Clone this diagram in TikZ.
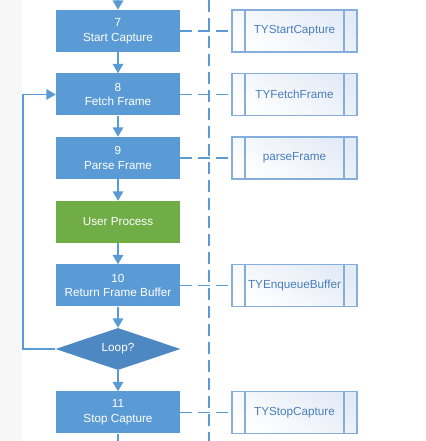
\documentclass[tikz,border=0pt]{standalone}
\usepackage{fontspec}
\setmainfont{Liberation Sans}
\usepackage{tikz}
\usetikzlibrary{arrows.meta,calc,positioning,shapes.geometric}
\definecolor{Sky}{HTML}{5B9BD5}
\definecolor{Steel}{HTML}{4E88C2}
\definecolor{Leaf}{HTML}{70AD47}
\definecolor{Frame}{HTML}{86AEDC}
\definecolor{Ink}{HTML}{4A7EBB}
\definecolor{Haze}{HTML}{E3EBF6}
\definecolor{Strip}{HTML}{F7F7F7}
\tikzset{
  flowbox/.style={rectangle,fill=Sky,text=white,minimum width=3.72cm,minimum height=1.26cm,
    align=center,font=\fontsize{10}{12.5}\selectfont,inner sep=0pt},
  userbox/.style={flowbox,fill=Leaf},
  loopbox/.style={diamond,fill=Steel,text=white,aspect=3,minimum width=3.75cm,minimum height=1.26cm,
    inner sep=0pt,font=\fontsize{10}{12.5}\selectfont},
  apibox/.style={rectangle,draw=Frame,line width=0.9pt,text=Ink,top color=Haze,bottom color=white,
    shading angle=-30,minimum width=3.75cm,minimum height=1.26cm,inner sep=0pt,
    font=\fontsize{10}{12}\selectfont,
    path picture={
      \draw[Frame,line width=0.9pt]
        ([xshift=0.39cm]path picture bounding box.north west) -- ([xshift=0.39cm]path picture bounding box.south west)
        ([xshift=-0.39cm]path picture bounding box.north east) -- ([xshift=-0.39cm]path picture bounding box.south east);}},
  flow/.style={Sky,line width=1.3pt,-{Triangle[width=9pt,length=8pt]}},
  calls/.style={Sky,line width=1.2pt,dash pattern=on 0.36cm off 0.18cm}
}
\begin{document}
\begin{tikzpicture}[x=1cm,y=1cm]
    \useasboundingbox (0,0) rectangle (12.75,13.23);
    \fill[Strip] (0,0) rectangle (0.66,13.23);

    \coordinate (top) at (3.54,13.23);
    \coordinate (bottom) at (3.54,0);
    \coordinate (laneTop) at (6.27,13.23);
    \coordinate (laneBottom) at (6.27,0);
    \coordinate (back) at (0.69,2.76);

    \node[flowbox] (start) at (3.54,12.30) {7\\Start Capture};
    \node[flowbox] (fetch) at (3.54,10.395) {8\\Fetch Frame};
    \node[flowbox] (parse) at (3.54,8.49) {9\\Parse Frame};
    \node[userbox] (user) at (3.54,6.57) {User Process};
    \node[flowbox] (enqueue) at (3.54,4.665) {10\\Return Frame Buffer};
    \node[loopbox] (loop) at (3.54,2.76) {Loop?};
    \node[flowbox] (stop) at (3.54,0.855) {11\\Stop Capture};

    \node[apibox] (apiStart) at (8.835,12.30) {TYStartCapture};
    \node[apibox] (apiFetch) at (8.835,10.395) {TYFetchFrame};
    \node[apibox] (apiParse) at (8.835,8.49) {parseFrame};
    \node[apibox] (apiEnqueue) at (8.835,4.665) {TYEnqueueBuffer};
    \node[apibox] (apiStop) at (8.835,0.855) {TYStopCapture};

    \draw[calls] (laneTop) -- (laneBottom);

    \draw[flow] (top) -- (start);
    \draw[flow] (start) -- (fetch);
    \draw[flow] (fetch) -- (parse);
    \draw[flow] (parse) -- (user);
    \draw[flow] (user) -- (enqueue);
    \draw[flow] (enqueue) -- (loop);
    \draw[flow] (loop) -- (stop);
    \draw[Sky,line width=1.3pt] (stop) -- (bottom);
    \draw[flow] (loop.west) -- (back) |- (fetch.west);

    \draw[calls] (start) -- (apiStart);
    \draw[calls] (fetch) -- (apiFetch);
    \draw[calls] (parse) -- (apiParse);
    \draw[calls] (enqueue) -- (apiEnqueue);
    \draw[calls] (stop) -- (apiStop);
  \end{tikzpicture}
\end{document}
